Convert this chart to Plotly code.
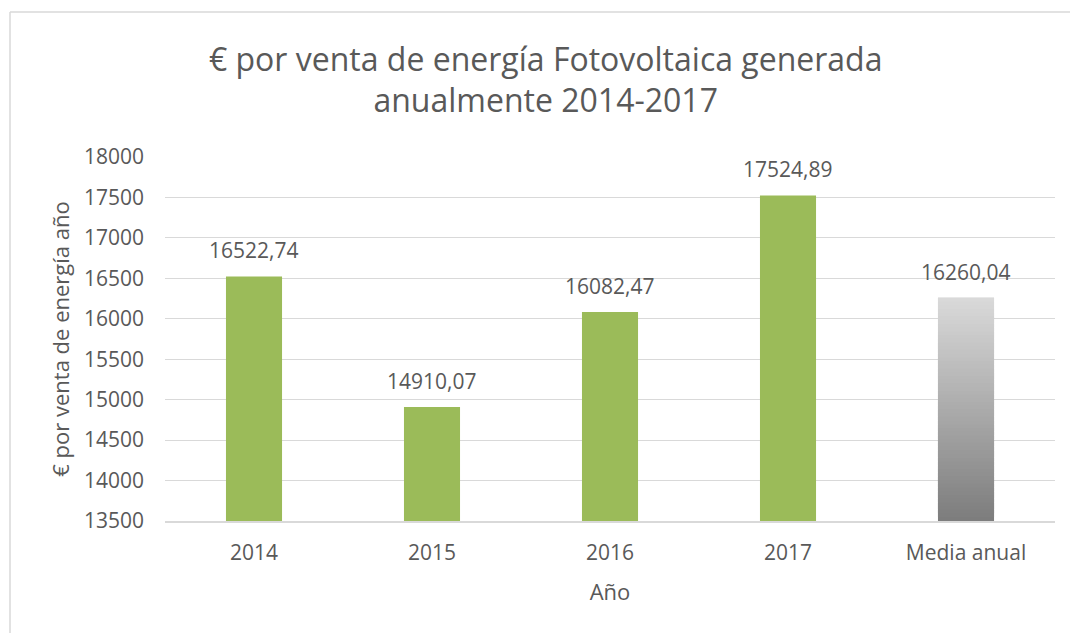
import plotly.graph_objects as go

categories = ["2014", "2015", "2016", "2017", "Media anual"]
values = [16522.74, 14910.07, 16082.47, 17524.89, 16260.04]
labels = ["16522,74", "14910,07", "16082,47", "17524,89", "16260,04"]
y_ticks = [13500, 14000, 14500, 15000, 15500, 16000, 16500, 17000, 17500, 18000]

title_text = "€ por venta de energía Fotovoltaica generada<br>anualmente 2014-2017"
x_title = "Año"
y_title = "€ por venta de energía año"

GREEN = "#9BBB59"
TEXT = "#595959"
GRID = "#D9D9D9"
FONT = "Open Sans"
Y_MIN, Y_MAX = y_ticks[0], y_ticks[-1]
idx = list(range(len(categories)))

fig = go.Figure()

# Green bars (years)
fig.add_trace(go.Bar(
    x=idx[:4], y=[v - Y_MIN for v in values[:4]], base=Y_MIN,
    marker=dict(color=GREEN, line=dict(width=0)),
    hoverinfo="text", hovertext=labels[:4], showlegend=False,
))

# Gradient gray bar (annual mean), built from overlapping stacked slices
N = 60
mean_val = values[4]
step = (mean_val - Y_MIN) / N
bases, heights, colors = [], [], []
top_rgb = (217, 217, 217)
bot_rgb = (125, 125, 125)
for i in range(N):
    b0 = Y_MIN + i * step
    bases.append(b0)
    heights.append(min(step * 3, mean_val - b0))
    t = i / (N - 1)
    r = round(bot_rgb[0] + (top_rgb[0] - bot_rgb[0]) * t)
    g = round(bot_rgb[1] + (top_rgb[1] - bot_rgb[1]) * t)
    b = round(bot_rgb[2] + (top_rgb[2] - bot_rgb[2]) * t)
    colors.append(f"rgb({r},{g},{b})")
fig.add_trace(go.Bar(
    x=[idx[4]] * N, y=heights, base=bases,
    marker=dict(color=colors, line=dict(width=0)),
    hoverinfo="skip", showlegend=False,
))

# Data labels
for i, v, lab in zip(idx, values, labels):
    fig.add_annotation(x=i, y=v, text=lab, showarrow=False,
                       yanchor="bottom", yshift=10,
                       font=dict(family=FONT, size=21, color=TEXT))

# Chart border (left + top)
x0p = (10 - 165) / 890
x1p = (1075 - 165) / 890
ytop = (521 - 12) / 364
ybot = (521 - 645) / 364
fig.add_shape(type="line", xref="paper", yref="paper", x0=x0p, x1=x0p, y0=ybot, y1=ytop,
              line=dict(color=GRID, width=1.5))
fig.add_shape(type="line", xref="paper", yref="paper", x0=x0p, x1=x1p, y0=ytop, y1=ytop,
              line=dict(color=GRID, width=1.5))

fig.update_layout(
    width=1070, height=633,
    margin=dict(l=165, r=15, t=157, b=112),
    paper_bgcolor="white", plot_bgcolor="white",
    barmode="overlay", bargap=0.685,
    title=dict(text=title_text, x=0.51, xanchor="center", y=0.888, yanchor="middle",
               font=dict(family=FONT, size=32, color=TEXT)),
    font=dict(family=FONT, color=TEXT),
    xaxis=dict(
        range=[-0.5, 4.5], tickmode="array", tickvals=idx, ticktext=categories,
        showgrid=False, zeroline=False, showline=True, linecolor=GRID, linewidth=1.5,
        ticks="", ticklabelstandoff=12, tickfont=dict(family=FONT, size=21, color=TEXT),
        title=dict(text=x_title, font=dict(family=FONT, size=22, color=TEXT), standoff=20),
    ),
    yaxis=dict(
        range=[Y_MIN, Y_MAX], tickmode="array", tickvals=y_ticks,
        ticktext=[str(t) for t in y_ticks],
        showgrid=True, gridcolor=GRID, gridwidth=1.3, zeroline=False,
        showline=False, ticks="", ticklabelstandoff=20,
        tickfont=dict(family=FONT, size=21, color=TEXT),
        title=dict(text=y_title, font=dict(family=FONT, size=22, color=TEXT), standoff=8),
    ),
)

fig.write_html("out.html")
